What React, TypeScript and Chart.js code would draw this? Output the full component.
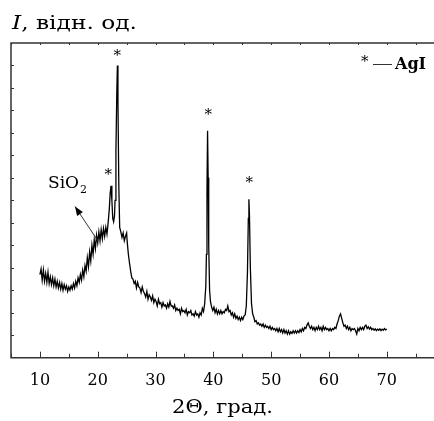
import React, { useEffect, useRef } from "react";
import { Chart, registerables } from "chart.js";

Chart.register(...registerables);

// XRD pattern: [2Θ (degrees), intensity (arb. units)]
const pattern: [number, number][] = [
  [10.0, 3.7], [10.2, 3.95], [10.4, 3.45], [10.6, 3.9], [10.8, 3.4], [11.0, 3.75], [11.2, 3.35], [11.4, 3.8],
  [11.6, 3.3], [11.8, 3.6], [12.0, 3.25], [12.2, 3.55], [12.4, 3.2], [12.6, 3.5], [12.8, 3.15], [13.0, 3.4],
  [13.2, 3.1], [13.4, 3.35], [13.6, 3.05], [13.8, 3.3], [14.0, 3.0], [14.2, 3.25], [14.4, 3.05], [14.6, 3.2],
  [14.8, 2.95], [15.0, 3.15], [15.2, 3.0], [15.4, 3.2], [15.6, 3.05], [15.8, 3.3], [16.0, 3.1], [16.2, 3.4],
  [16.4, 3.2], [16.6, 3.55], [16.8, 3.35], [17.0, 3.7], [17.2, 3.45], [17.4, 3.9], [17.6, 3.6], [17.8, 4.1],
  [18.0, 3.85], [18.2, 4.45], [18.4, 4.05], [18.6, 4.7], [18.8, 4.3], [19.0, 5.0], [19.2, 4.6], [19.4, 5.25],
  [19.6, 4.85], [19.8, 5.45], [20.0, 5.1], [20.2, 5.6], [20.4, 5.2], [20.6, 5.7], [20.8, 5.3], [21.0, 5.75],
  [21.2, 5.4], [21.4, 5.8], [21.6, 5.5], [21.8, 6.0], [22.0, 6.6], [22.15, 7.3], [22.3, 7.65], [22.45, 7.0],
  [22.6, 6.2], [22.75, 6.05], [22.9, 6.3], [23.0, 7.0], [23.15, 9.2], [23.3, 11.8], [23.4, 13.0], [23.5, 11.4],
  [23.65, 7.6], [23.8, 5.8], [24.0, 5.6], [24.2, 5.35], [24.4, 5.55], [24.6, 5.2], [24.8, 5.4], [25.0, 5.55],
  [25.1, 5.15], [25.3, 4.6], [25.5, 4.2], [25.7, 3.85], [25.9, 3.55], [26.1, 3.5], [26.3, 3.3], [26.5, 3.4],
  [26.7, 3.1], [26.9, 3.35], [27.1, 3.15], [27.3, 3.1], [27.5, 2.9], [27.7, 3.15], [27.9, 2.95], [28.1, 2.85],
  [28.3, 2.7], [28.5, 2.95], [28.7, 2.6], [28.9, 2.8], [29.1, 2.7], [29.3, 2.55], [29.5, 2.75], [29.7, 2.45],
  [29.9, 2.6], [30.1, 2.5], [30.3, 2.3], [30.5, 2.6], [30.7, 2.4], [30.9, 2.45], [31.1, 2.25], [31.3, 2.45],
  [31.5, 2.3], [31.7, 2.35], [31.9, 2.2], [32.1, 2.4], [32.3, 2.25], [32.5, 2.5], [32.7, 2.3], [32.9, 2.3],
  [33.1, 2.2], [33.3, 2.35], [33.5, 2.1], [33.7, 2.2], [33.9, 2.1], [34.1, 2.15], [34.3, 1.95], [34.5, 2.2],
  [34.7, 2.05], [34.9, 2.1], [35.1, 2.0], [35.3, 2.15], [35.5, 1.9], [35.7, 2.05], [35.9, 2.0], [36.1, 2.1],
  [36.3, 1.9], [36.5, 1.95], [36.7, 1.85], [36.9, 2.05], [37.1, 1.9], [37.3, 1.95], [37.5, 1.8], [37.7, 2.0],
  [37.9, 1.9], [38.1, 2.2], [38.3, 2.05], [38.5, 2.4], [38.7, 3.2], [38.8, 4.6], [38.9, 7.5], [39.0, 10.1],
  [39.1, 8.0], [39.2, 5.0], [39.35, 3.0], [39.5, 2.5], [39.7, 2.25], [39.9, 2.1], [40.1, 2.25], [40.3, 2.0],
  [40.5, 2.15], [40.7, 1.95], [40.9, 2.1], [41.1, 1.95], [41.3, 2.1], [41.5, 1.95], [41.7, 2.05], [41.9, 2.0],
  [42.1, 2.15], [42.3, 2.1], [42.5, 2.3], [42.7, 2.05], [42.9, 2.1], [43.1, 1.9], [43.3, 2.0], [43.5, 1.8],
  [43.7, 1.95], [43.9, 1.75], [44.1, 1.85], [44.3, 1.7], [44.5, 1.8], [44.7, 1.65], [44.9, 1.8], [45.1, 1.7],
  [45.3, 1.85], [45.5, 1.9], [45.7, 2.3], [45.9, 3.8], [46.05, 6.2], [46.15, 7.05], [46.25, 6.3], [46.4, 4.0],
  [46.6, 2.4], [46.8, 1.95], [47.0, 1.8], [47.2, 1.6], [47.4, 1.65], [47.6, 1.5], [47.8, 1.55], [48.0, 1.45],
  [48.2, 1.5], [48.4, 1.4], [48.6, 1.5], [48.8, 1.35], [49.0, 1.45], [49.2, 1.35], [49.4, 1.4], [49.6, 1.3],
  [49.8, 1.4], [50.0, 1.25], [50.2, 1.35], [50.4, 1.25], [50.6, 1.3], [50.8, 1.2], [51.0, 1.3], [51.2, 1.15],
  [51.4, 1.3], [51.6, 1.15], [51.8, 1.25], [52.0, 1.1], [52.2, 1.25], [52.4, 1.1], [52.6, 1.2], [52.8, 1.05],
  [53.0, 1.2], [53.2, 1.05], [53.4, 1.15], [53.6, 1.08], [53.8, 1.2], [54.0, 1.1], [54.2, 1.2], [54.4, 1.1],
  [54.6, 1.2], [54.8, 1.12], [55.0, 1.25], [55.2, 1.15], [55.4, 1.3], [55.6, 1.2], [55.8, 1.35], [56.0, 1.3],
  [56.2, 1.45], [56.4, 1.55], [56.6, 1.4], [56.8, 1.3], [57.0, 1.4], [57.2, 1.25], [57.4, 1.35], [57.6, 1.2],
  [57.8, 1.35], [58.0, 1.25], [58.2, 1.4], [58.4, 1.25], [58.6, 1.35], [58.8, 1.2], [59.0, 1.4], [59.2, 1.25],
  [59.4, 1.35], [59.6, 1.25], [59.8, 1.3], [60.0, 1.2], [60.2, 1.3], [60.4, 1.2], [60.6, 1.3], [60.8, 1.25],
  [61.0, 1.35], [61.2, 1.3], [61.4, 1.5], [61.6, 1.65], [61.8, 1.85], [62.0, 1.95], [62.2, 1.75], [62.4, 1.55],
  [62.6, 1.4], [62.8, 1.45], [63.0, 1.3], [63.2, 1.4], [63.4, 1.25], [63.6, 1.35], [63.8, 1.2], [64.0, 1.3],
  [64.2, 1.25], [64.4, 1.3], [64.6, 1.2], [64.8, 1.05], [65.0, 1.3], [65.2, 1.2], [65.4, 1.35], [65.6, 1.25],
  [65.8, 1.35], [66.0, 1.25], [66.2, 1.4], [66.4, 1.45], [66.6, 1.3], [66.8, 1.38], [67.0, 1.28], [67.2, 1.35],
  [67.4, 1.25], [67.6, 1.3], [67.8, 1.22], [68.0, 1.28], [68.2, 1.2], [68.4, 1.27], [68.6, 1.22], [68.8, 1.28],
  [69.0, 1.2], [69.2, 1.27], [69.4, 1.22], [69.6, 1.3], [69.8, 1.24], [70.0, 1.28],
];

// x-axis tick labels
const xTickLabels: number[] = [10, 20, 30, 40, 50, 60, 70];

// AgI peak markers (2Θ, height in arb. units)
const agiMarksX: number[] = [21.82, 23.37, 39.12, 46.21];
const agiMarksY: number[] = [8.27, 13.54, 10.94, 7.9];

const SERIF = '"DejaVu Serif", "Liberation Serif", serif';

function fitText(ctx: CanvasRenderingContext2D, parts: { t: string; font: string }[], x: number, y: number, width: number) {
  let total = 0;
  const ws = parts.map((p) => {
    ctx.font = p.font;
    const w = ctx.measureText(p.t).width;
    total += w;
    return w;
  });
  const k = width / total;
  ctx.save();
  ctx.translate(x, y);
  ctx.scale(k, 1);
  let cx = 0;
  parts.forEach((p, i) => {
    ctx.font = p.font;
    ctx.fillText(p.t, cx, 0);
    cx += ws[i];
  });
  ctx.restore();
}

export default function App() {
  const ref = useRef<HTMLCanvasElement | null>(null);

  useEffect(() => {
    if (!ref.current) return;

    const overlay = {
      id: "overlay",
      afterDraw(chart: any) {
        const ctx = chart.ctx as CanvasRenderingContext2D;
        const xs = chart.scales.x;
        const ys = chart.scales.y;
        const a = chart.chartArea;
        ctx.save();
        // frame
        ctx.strokeStyle = "#333";
        ctx.lineWidth = 1.5;
        ctx.beginPath();
        ctx.moveTo(a.left, a.top);
        ctx.lineTo(a.right, a.top);
        ctx.lineTo(a.right, a.bottom);
        ctx.lineTo(a.left, a.bottom);
        ctx.closePath();
        ctx.stroke();
        // inward ticks
        ctx.lineWidth = 1;
        ctx.beginPath();
        for (let v = 5; v <= 80; v += 5) {
          const px = Math.round(xs.getPixelForValue(v)) + 0.5;
          const len = v % 10 === 0 ? 6 : 4;
          ctx.moveTo(px, a.bottom);
          ctx.lineTo(px, a.bottom - len);
          ctx.moveTo(px, a.top);
          ctx.lineTo(px, a.top + 2);
        }
        for (let v = 1; v < 14; v++) {
          const py = Math.round(ys.getPixelForValue(v)) + 0.5;
          ctx.moveTo(a.left, py);
          ctx.lineTo(a.left + 3, py);
        }
        ctx.stroke();

        ctx.fillStyle = "#000";
        ctx.textBaseline = "alphabetic";
        ctx.textAlign = "left";
        // y title
        fitText(
          ctx,
          [
            { t: "I", font: `italic 19px ${SERIF}` },
            { t: ", відн. од.", font: `19px ${SERIF}` },
          ],
          12,
          29,
          125
        );
        // x title
        fitText(ctx, [{ t: "2Θ, град.", font: `19px ${SERIF}` }], 172, 413, 101);

        // asterisks
        ctx.textAlign = "center";
        ctx.font = `15px ${SERIF}`;
        ctx.textBaseline = "middle";
        for (let i = 0; i < agiMarksX.length; i++) {
          const px = xs.getPixelForValue(agiMarksX[i]);
          const py = ys.getPixelForValue(agiMarksY[i]);
          ctx.fillText("*", px, py + 3);
        }

        // legend "* — AgI"
        ctx.textAlign = "left";
        ctx.fillText("*", 361, 62);
        ctx.beginPath();
        ctx.lineWidth = 1;
        ctx.moveTo(373, 64.5);
        ctx.lineTo(392, 64.5);
        ctx.stroke();
        ctx.textBaseline = "alphabetic";
        ctx.font = `bold 16px ${SERIF}`;
        ctx.fillText("AgI", 395, 69);

        // SiO2 label
        ctx.font = `17px ${SERIF}`;
        ctx.fillText("SiO", 48, 188);
        const sw = ctx.measureText("SiO").width;
        ctx.font = `11px ${SERIF}`;
        ctx.fillText("2", 48 + sw + 1, 193);

        // arrow
        const x1 = 98, y1 = 241, x2 = 75, y2 = 206.5;
        ctx.beginPath();
        ctx.lineWidth = 1;
        ctx.moveTo(x1, y1);
        ctx.lineTo(x2, y2);
        ctx.stroke();
        const ang = Math.atan2(y2 - y1, x2 - x1);
        const L = 9, W = 3.5;
        ctx.beginPath();
        ctx.moveTo(x2, y2);
        ctx.lineTo(x2 - L * Math.cos(ang) + W * Math.sin(ang), y2 - L * Math.sin(ang) - W * Math.cos(ang));
        ctx.lineTo(x2 - L * Math.cos(ang) - W * Math.sin(ang), y2 - L * Math.sin(ang) + W * Math.cos(ang));
        ctx.closePath();
        ctx.fill();
        ctx.restore();
      },
    };

    const chart = new Chart(ref.current, {
      type: "line",
      data: {
        datasets: [
          {
            data: pattern.map(([x, y]) => ({ x, y })),
            borderColor: "#000",
            borderWidth: 1.3,
            pointRadius: 0,
            tension: 0,
            fill: false,
          },
        ],
      },
      options: {
        responsive: false,
        animation: false,
        layout: { padding: { left: 11, top: 43, right: 25.4, bottom: 0 } },
        plugins: { legend: { display: false }, tooltip: { enabled: false } },
        scales: {
          x: {
            type: "linear",
            min: 5,
            max: 80,
            grid: { display: false },
            border: { display: false },
            afterFit: (s: any) => {
              s.height = 63.3;
            },
            ticks: {
              stepSize: 5,
              autoSkip: false,
              maxRotation: 0,
              padding: 6,
              color: "#000",
              font: { family: SERIF, size: 16 },
              callback: (v: any) => (xTickLabels.includes(Number(v)) ? String(v) : ""),
            },
          },
          y: { type: "linear", display: false, min: 0, max: 14 },
        },
      },
      plugins: [overlay],
    } as any);
    return () => chart.destroy();
  }, []);

  return (
    <div
      style={{
        position: "absolute",
        left: 0,
        top: 0,
        width: 434,
        height: 421,
        overflow: "hidden",
        background: "#fff",
      }}
    >
      <canvas ref={ref} width={470} height={421} style={{ display: "block" }} />
    </div>
  );
}
